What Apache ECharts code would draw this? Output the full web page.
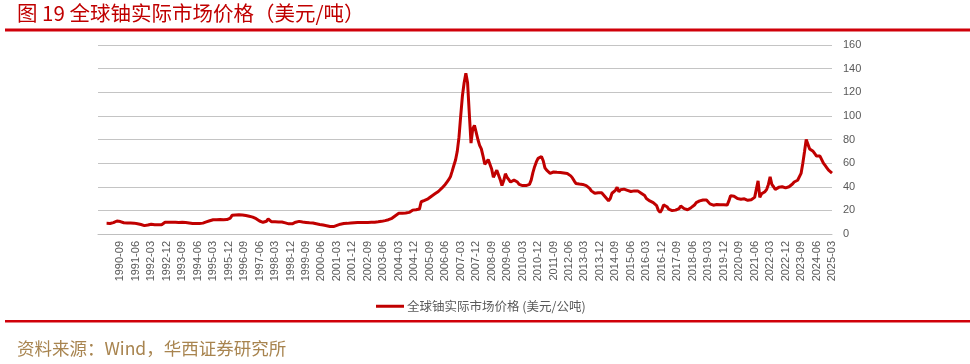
<!DOCTYPE html>
<html>
<head>
<meta charset="utf-8">
<script src="https://cdn.jsdelivr.net/npm/echarts@6/dist/echarts.min.js"></script>
<style>html,body{margin:0;padding:0;background:#fff;}#c{width:970px;height:364px;}</style>
</head>
<body>
<div id="c"></div>
<script>
// Axis starts 1989-08 (empty until 1990-01); monthly data 1990-01 .. 2025-03
const axisStart = [1989, 8];
const axisEnd = [2025, 3];
const leadingEmpty = 5; // 1989-08 .. 1989-12
const firstLabel = '1990-09';
const labelEvery = 9;
const yTicks = {min: 0, max: 160, interval: 20};
const seriesName = '全球铀实际市场价格 (美元/公吨)';
const titleText = '图 19 全球铀实际市场价格（美元/吨）';
const sourceText = '资料来源：Wind，华西证券研究所';

const prices = [
  /*1990*/ 9.0, 8.8, 8.9, 9.2, 9.6, 10.3, 11.0, 11.5, 10.5, 9.2, 9.5, 9.6,
  /*1991*/ 9.4, 9.6, 9.3, 9.5, 9.2, 8.9, 8.6, 8.3, 8.0, 7.6, 7.1, 7.0,
  /*1992*/ 7.6, 8.2, 8.3, 8.1, 7.9, 8.0, 7.8, 7.6, 7.9, 8.7, 10.0, 10.4,
  /*1993*/ 10.0, 9.8, 9.9, 10.1, 9.9, 10.0, 9.7, 9.8, 9.9, 9.6, 9.7, 9.5,
  /*1994*/ 9.3, 9.1, 8.9, 8.7, 8.8, 8.8, 8.9, 9.0, 9.2, 9.6, 10.2, 10.7,
  /*1995*/ 11.2, 11.7, 12.1, 12.2, 12.1, 12.1, 12.2, 12.2, 12.1, 12.1, 12.2, 12.3,
  /*1996*/ 13.5, 15.8, 16.0, 16.1, 16.2, 16.2, 16.3, 16.1, 15.9, 15.6, 15.3, 15.0,
  /*1997*/ 14.8, 14.3, 13.8, 13.0, 12.0, 11.0, 10.2, 9.9, 9.6, 10.8, 12.7, 11.6,
  /*1998*/ 10.3, 10.2, 10.3, 10.1, 10.2, 10.0, 10.1, 9.8, 9.4, 9.0, 8.6, 8.2,
  /*1999*/ 8.6, 9.3, 10.0, 10.6, 10.7, 10.4, 10.1, 9.9, 9.8, 9.7, 9.5, 9.4,
  /*2000*/ 9.3, 9.0, 8.7, 8.4, 8.1, 7.8, 7.6, 7.3, 7.0, 6.7, 6.4, 6.2,
  /*2001*/ 6.3, 6.7, 7.3, 7.9, 8.3, 8.6, 8.9, 9.0, 9.0, 9.2, 9.3, 9.4,
  /*2002*/ 9.6, 9.7, 9.8, 9.7, 9.7, 9.8, 9.8, 9.9, 9.8, 9.8, 9.9, 9.9,
  /*2003*/ 10.0, 10.1, 10.3, 10.5, 10.7, 11.0, 11.3, 11.7, 12.1, 12.6, 13.3, 14.3,
  /*2004*/ 15.5, 16.7, 17.5, 17.6, 17.5, 17.6, 17.7, 17.7, 18.3, 19.7, 20.2, 20.4,
  /*2005*/ 20.6, 20.8, 21.1, 27.3, 28.0, 28.5, 29.3, 29.8, 30.8, 32.0, 33.0, 34.0,
  /*2006*/ 34.9, 36.0, 37.5, 38.8, 40.0, 42.0, 44.0, 46.0, 48.4, 53.0, 58.0, 62.6,
  /*2007*/ 70, 82, 100, 117, 128, 136, 128, 102, 77, 89, 92, 86,
  /*2008*/ 80, 75, 72, 66, 59, 60, 63, 64, 55, 48, 51, 54,
  /*2009*/ 50, 46, 41, 45, 51, 48, 46, 44, 45, 45.6, 45, 44,
  /*2010*/ 42, 40.6, 41, 40.8, 41, 41.4, 42, 45.6, 52, 57, 61, 64,
  /*2011*/ 65, 65.5, 62, 56, 54, 52.5, 51.4, 52, 52.5, 52.8, 52.2, 51.8,
  /*2012*/ 52, 51.8, 51.6, 51.4, 51.2, 50.5, 49.2, 47.5, 45, 42.8, 42.5, 42.3,
  /*2013*/ 42.5, 42, 41.5, 41, 40, 38.6, 36.5, 35, 34.5, 34.8, 35, 35.2,
  /*2014*/ 35, 34, 31.6, 30, 28.2, 30, 34.5, 36, 37, 39.5, 35.8, 37.5,
  /*2015*/ 38.6, 38, 36.7, 37, 36.5, 36, 35.8, 36.5, 37.2, 36.5, 35.5, 34.5,
  /*2016*/ 33, 32.5, 30, 28.5, 28, 27, 26.5, 26, 24, 20, 18.3, 20.5,
  /*2017*/ 24.6, 24, 23.1, 21, 19.5, 19.8, 20, 20.2, 20.3, 21.5, 23.7, 22.5,
  /*2018*/ 21.5, 20.3, 20.5, 21.5, 22.3, 23, 24.5, 26.5, 27.5, 28, 28.8, 28.8,
  /*2019*/ 29, 28.8, 27.5, 25.5, 24.6, 24.4, 24.8, 25, 25.1, 24.8, 25, 24.7,
  /*2020*/ 24, 24.5, 28, 32.5, 33, 32, 31, 30, 29.4, 29.5, 29.7, 29.8,
  /*2021*/ 29.8, 28.5, 28, 29, 30, 31, 32, 45, 31, 34, 35, 35.8,
  /*2022*/ 37.8, 42, 48.4, 42, 40, 37.8, 38.5, 39.5, 40.6, 40, 38.6, 39,
  /*2023*/ 39.5, 40, 41, 42.3, 44, 45.6, 45.5, 46, 51.3, 59.7, 69.6, 80,
  /*2024*/ 81, 72, 73.5, 70, 68, 66, 65.5, 66, 63, 60, 58, 56,
  /*2025*/ 54, 52.5, 51.5
];

// build month categories
const months = [];
{
  let y = axisStart[0], m = axisStart[1];
  while (y < axisEnd[0] || (y === axisEnd[0] && m <= axisEnd[1])) {
    months.push(y + '-' + String(m).padStart(2, '0'));
    m++; if (m > 12) { m = 1; y++; }
  }
}
const firstLabelIdx = months.indexOf(firstLabel);
const seriesData = new Array(leadingEmpty).fill(null).concat(prices);

const chart = echarts.init(document.getElementById('c'), null, {renderer: 'canvas'});
const latin = '"Liberation Sans", Arial, sans-serif';
const cjk = '"Noto Sans CJK SC", "Liberation Sans", sans-serif';

chart.setOption({
  backgroundColor: '#ffffff',
  animation: false,
  grid: {left: 98, right: 138, top: 45, bottom: 130, containLabel: false},
  legend: {
    data: [seriesName],
    left: 371, top: 295,
    icon: 'rect', itemWidth: 28, itemHeight: 3, itemGap: 10,
    textStyle: {color: '#595959', fontSize: 12.5, fontFamily: cjk, padding: [0, 0, 0, -2]}
  },
  xAxis: {
    type: 'category',
    data: months,
    boundaryGap: false,
    axisLine: {show: true, lineStyle: {color: '#bfbfbf', width: 1}},
    axisTick: {show: false},
    splitLine: {show: false},
    axisLabel: {
      rotate: 90,
      interval: function (idx) { return idx >= firstLabelIdx && (idx - firstLabelIdx) % labelEvery === 0; },
      color: '#595959', fontSize: 11, fontFamily: latin, margin: 7
    }
  },
  yAxis: {
    type: 'value',
    position: 'right',
    min: yTicks.min, max: yTicks.max, interval: yTicks.interval,
    axisLine: {show: false},
    axisTick: {show: false},
    splitLine: {show: true, lineStyle: {color: '#c4c4c4', width: 1}},
    axisLabel: {color: '#595959', fontSize: 11, fontFamily: latin, margin: 11}
  },
  series: [{
    name: seriesName,
    type: 'line',
    data: seriesData,
    showSymbol: false,
    symbol: 'none',
    connectNulls: false,
    lineStyle: {color: '#C00000', width: 3},
    itemStyle: {color: '#C00000'}
  }],
  graphic: [
    {type: 'text', left: 17, top: 3, style: {text: titleText, fill: '#C00000', fontSize: 20.5, fontFamily: cjk}},
    {type: 'rect', shape: {x: 5, y: 28.5, width: 965, height: 3}, style: {fill: '#D0000A'}},
    {type: 'rect', shape: {x: 5, y: 320, width: 965, height: 2.5}, style: {fill: '#D0000A'}},
    {type: 'text', left: 17, top: 340, style: {text: sourceText, fill: '#A8844F', fontSize: 17.5, fontFamily: cjk}}
  ]
});
</script>
</body>
</html>
